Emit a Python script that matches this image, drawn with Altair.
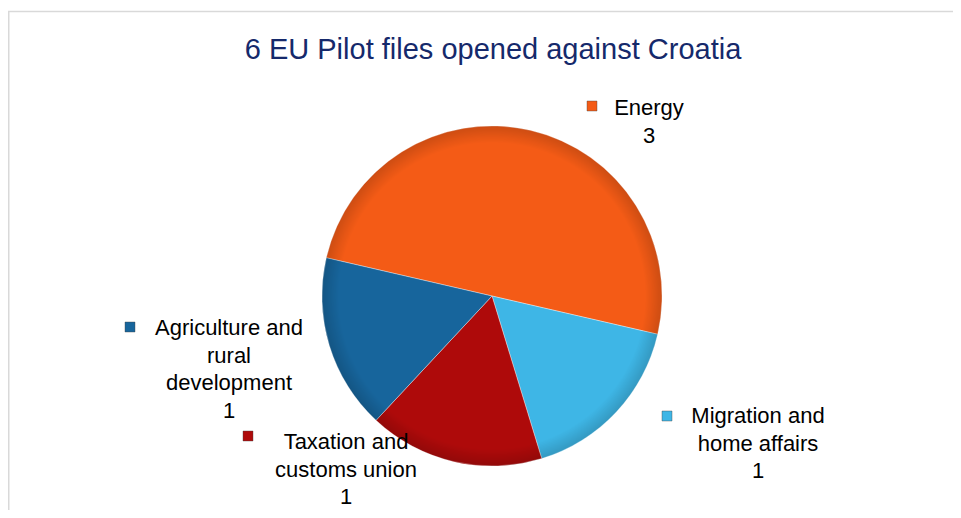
import math
import altair as alt
import pandas as pd

# ---- data ----
categories = ["Energy", "Migration and home affairs",
              "Taxation and customs union", "Agriculture and rural development"]
label_lines = ["Energy", "Migration and\nhome affairs",
               "Taxation and\ncustoms union", "Agriculture and\nrural\ndevelopment"]
values = [3, 1, 1, 1]
colors = ["#F45B16", "#3EB6E6", "#AE0A0A", "#17659C"]
title_text = "6 EU Pilot files opened against Croatia"

df = pd.DataFrame({
    "category": categories,
    "value": values,
    "order": list(range(len(categories))),
    "label": [f"{l}\n{v}" for l, v in zip(label_lines, values)],
})

W, H = 945, 502
CX, CY, R = 484, 288, 170
start = math.radians(283)
color_scale = alt.Scale(domain=categories, range=colors)
FONT = "Liberation Sans"

base = alt.Chart(df)

pie = base.mark_arc(outerRadius=R, stroke="#ffffff", strokeWidth=0.8, strokeOpacity=0.45).encode(
    theta=alt.Theta("value:Q", stack=True, scale=alt.Scale(range=[start, start + 2 * math.pi])),
    color=alt.Color("category:N", scale=color_scale, legend=None),
    order=alt.Order("order:Q"),
    x=alt.value(CX),
    y=alt.value(CY),
)

dummy = alt.Chart(pd.DataFrame({"a": [0]}))

# subtle rim shading to hint at the bevelled look
rim = dummy.mark_arc(
    theta=0, theta2=2 * math.pi, outerRadius=R,
    color={"gradient": "radial",
           "stops": [{"offset": 0, "color": "rgba(0,0,0,0)"},
                     {"offset": 0.9, "color": "rgba(0,0,0,0)"},
                     {"offset": 1, "color": "rgba(0,0,0,0.16)"}]},
).encode(x=alt.value(CX), y=alt.value(CY))

# label anchor positions (text centre x, first baseline y, marker x, marker y)
anchors = {
    "Energy": (641, 107, 584, 98),
    "Migration and home affairs": (750, 415, 659, 408),
    "Taxation and customs union": (338, 441, 240, 428),
    "Agriculture and rural development": (221, 327, 122, 319),
}

layers = [pie, rim]
for cat, (tx, ty, mx, my) in anchors.items():
    sub = base.transform_filter(alt.datum.category == cat)
    layers.append(
        sub.mark_text(align="center", baseline="alphabetic", fontSize=22, font=FONT,
                      lineBreak="\n", lineHeight=27.5, color="#000000").encode(
            text="label:N", x=alt.value(tx), y=alt.value(ty))
    )
    layers.append(
        sub.mark_square(size=100, opacity=1, stroke="#444444", strokeWidth=0.4).encode(
            color=alt.Color("category:N", scale=color_scale, legend=None),
            x=alt.value(mx), y=alt.value(my))
    )

title = dummy.mark_text(text=title_text, align="center", baseline="alphabetic",
                        fontSize=29, font=FONT, color="#15296B").encode(
    x=alt.value(485), y=alt.value(51))
top_border = dummy.mark_rule(color="#D9D9D9", strokeWidth=1.5).encode(
    x=alt.value(0), x2=alt.value(W), y=alt.value(3.5))
left_border = dummy.mark_rule(color="#D9D9D9", strokeWidth=1.5).encode(
    x=alt.value(0.75), y=alt.value(3), y2=alt.value(H))

chart = alt.layer(top_border, left_border, title, *layers).properties(
    width=W, height=H, autosize="none", padding=0
).configure_view(stroke=None)

chart.save("out.html", embed_options={"renderer": "svg", "actions": False})
